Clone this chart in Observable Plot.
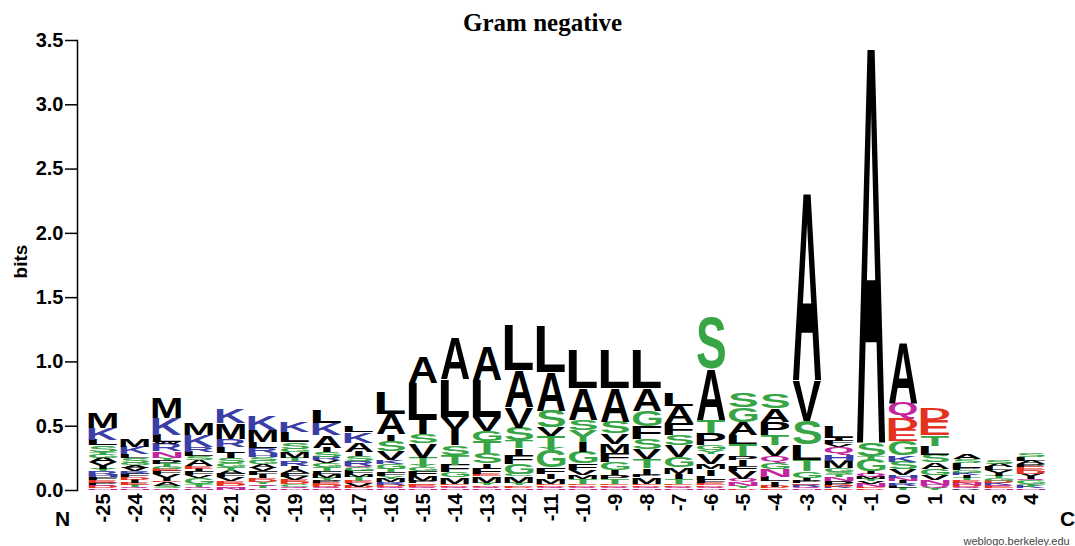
<!DOCTYPE html>
<html>
<head>
<meta charset="utf-8">
<script src="https://cdn.jsdelivr.net/npm/d3@7"></script>
<script src="https://cdn.jsdelivr.net/npm/@observablehq/plot@0.6"></script>
<style>
  html, body { margin: 0; padding: 0; background: #fff; }
</style>
</head>
<body>
<div id="chart"></div>
<script>
// Sequence positions relative to the cleavage site
const positions = [-25, -24, -23, -22, -21, -20, -19, -18, -17, -16, -15, -14, -13, -12, -11,
                   -10, -9, -8, -7, -6, -5, -4, -3, -2, -1, 0, 1, 2, 3, 4];

// Residues in each column, listed from the bottom of the stack to the top
const stackLetters = [
  "NDQPEFHRYIVAGTSLKM", "NQTEIDFRVAGSLKM", "QSADIVFEGTPYNRWLKM", "NQTGVFIEASLRKM",
  "NQDEVFATGSILRMK", "NTQYDEIFVAGSHRLMK", "NQCDEVFAIRTMGSLK", "NQDEPYMFTGVRSIAKL",
  "NDVETMFGQRSIAKL", "NQDRMYFTGKVSIAL", "NQEDPMFGYTVSILA", "NQDEMGFTSIVLA",
  "NQDYMEFISTGVLA", "NDEYMCGFITSVAL", "NQDEMIFGYTVSAL", "NQDETMVFGIYSAL",
  "NQDETPIGFMVSAL", "NQDEMPITVSFGAL", "NQDETIMGVSFAL", "NQDEFLIMVYGPTAS",
  "DYNQVFIPTLAGS", "EDILNGQVTPAS", "NQRDPIGTLSVA", "EKDPNTSGMHQVFIL",
  "DENVYMQIGTSA", "TLRINHVSKGEDQA", "YQNVGASLTED", "RQDNETIKGPLSA",
  "NEQKDGTIVLAS", "NKTGQIVDEPALS"
];

// Information (bits) carried by each residue, same order as stackLetters
const stackBits = [
  [.012, .014, .012, .02, .016, .024, .018, .03, .016, .028, .025, .035, .025, .022, .05, .045, .093, .125],
  [.012, .01, .018, .015, .025, .02, .025, .022, .025, .02, .018, .038, .032, .055, .059],
  [.014, .02, .025, .012, .025, .025, .025, .014, .02, .025, .025, .02, .05, .06, .015, .055, .13, .166],
  [.012, .014, .02, .05, .02, .03, .02, .02, .045, .03, .035, .041, .091, .091],
  [.014, .014, .022, .02, .03, .025, .025, .025, .035, .04, .035, .052, .063, .12, .107],
  [.012, .018, .015, .02, .02, .01, .025, .03, .025, .025, .025, .035, .025, .04, .05, .092, .108],
  [.012, .012, .02, .016, .02, .025, .025, .025, .03, .04, .025, .045, .025, .055, .079, .076],
  [.012, .012, .016, .015, .02, .02, .025, .03, .025, .035, .02, .025, .04, .035, .095, .095, .097],
  [.012, .015, .025, .015, .035, .02, .025, .025, .015, .035, .04, .035, .07, .083, .05],
  [.012, .012, .015, .02, .03, .02, .03, .025, .04, .03, .07, .08, .05, .16, .17],
  [.012, .012, .015, .012, .02, .04, .035, .03, .015, .06, .115, .07, .11, .29, .204],
  [.012, .012, .012, .012, .05, .04, .06, .075, .075, .13, .09, .292, .32],
  [.012, .012, .012, .02, .05, .015, .045, .04, .08, .09, .08, .11, .289, .26],
  [.012, .012, .012, .02, .05, .02, .08, .07, .05, .06, .1, .16, .287, .35],
  [.012, .012, .012, .012, .04, .04, .05, .13, .02, .09, .07, .13, .30, .365],
  [.012, .012, .012, .012, .04, .03, .04, .05, .09, .078, .09, .078, .246, .299],
  [.012, .012, .012, .012, .04, .03, .04, .06, .07, .07, .08, .09, .262, .299],
  [.012, .012, .012, .012, .05, .02, .05, .07, .08, .08, .10, .12, .172, .299],
  [.012, .012, .012, .012, .04, .04, .05, .08, .09, .08, .09, .132, .10],
  [.012, .012, .012, .015, .03, .03, .05, .04, .08, .03, .04, .09, .10, .40, .40],
  [.012, .02, .03, .025, .06, .04, .05, .03, .09, .073, .10, .11, .11],
  [.012, .015, .04, .035, .06, .055, .05, .08, .08, .10, .105, .108],
  [.012, .012, .015, .012, .02, .025, .05, .09, .12, .184, .315, 1.475],
  [.012, .015, .015, .03, .03, .02, .02, .03, .055, .05, .06, .02, .025, .025, .093],
  [.012, .012, .025, .02, .015, .02, .02, .02, .09, .03, .106, 3.12],
  [.015, .02, .02, .015, .025, .02, .045, .06, .05, .11, .087, .09, .123, .473],
  [.015, .025, .04, .035, .05, .05, .06, .065, .085, .12, .09],
  [.012, .015, .015, .015, .02, .02, .02, .015, .02, .02, .04, .03, .043],
  [.012, .015, .015, .015, .015, .02, .02, .02, .02, .025, .025, .035],
  [.012, .015, .02, .025, .015, .02, .02, .025, .03, .02, .025, .03, .028]
];

const yTicks = [0, 0.5, 1, 1.5, 2, 2.5, 3, 3.5];

// Residue colouring by chemical class
const polar = "GSTYC";
const basic = "KRH";
const acidic = "DE";
const amide = "NQ";
const classColors = {hydrophobic: "#000000", polar: "#37a546", basic: "#3a3ea6", acidic: "#e4321f", amide: "#c4259f"};

function residueColor(r) {
  if (polar.includes(r)) return classColors.polar;
  if (basic.includes(r)) return classColors.basic;
  if (acidic.includes(r)) return classColors.acidic;
  if (amide.includes(r)) return classColors.amide;
  return classColors.hydrophobic;
}

const rows = positions.flatMap((pos, i) =>
  Array.from(stackLetters[i], (letter, j) => ({pos, letter, bits: stackBits[i][j]}))
);

// Glyph ink metrics (measured large for precision) so every letter can be
// stretched to fill its stacked box
const LETTER_FONT = "'Liberation Sans', Arial, Helvetica, sans-serif";
const GLYPH_SIZE = 1000;
const measureCtx = document.createElement("canvas").getContext("2d");
measureCtx.font = `bold ${GLYPH_SIZE}px ${LETTER_FONT}`;
measureCtx.textAlign = "left";
measureCtx.textBaseline = "alphabetic";
const glyphCache = new Map();
function glyph(letter) {
  if (!glyphCache.has(letter)) {
    const m = measureCtx.measureText(letter);
    const L = m.actualBoundingBoxLeft, R = m.actualBoundingBoxRight;
    const A = m.actualBoundingBoxAscent, D = m.actualBoundingBoxDescent;
    glyphCache.set(letter, {L, A, W: L + R, H: A + D});
  }
  return glyphCache.get(letter);
}

// Replaces each stacked bar by its residue letter, scaled to the bar's box
function drawLetters(index, scales, values, dimensions, context) {
  const doc = (context && context.document) || document;
  const ns = "http://www.w3.org/2000/svg";
  const g = doc.createElementNS(ns, "g");
  g.setAttribute("text-anchor", "start");
  let bw = scales.x && scales.x.bandwidth;
  bw = typeof bw === "function" ? bw() : bw;
  if (!bw) bw = (1053 - 81) / positions.length;
  const inset = bw * 0.05;
  for (const i of index) {
    const y1 = values.y1[i], y2 = values.y2[i];
    const top = Math.min(y1, y2), h = Math.abs(y2 - y1);
    if (!(h > 0.25)) continue;
    const letter = rows[i].letter;
    let x = values.x[i] + inset, w = bw - 2 * inset;
    if (letter === "I") { // the narrow I keeps its slender shape
      const nw = w * 0.27;
      x += (w - nw) / 2;
      w = nw;
    }
    const m = glyph(letter);
    const t = doc.createElementNS(ns, "text");
    t.setAttribute("x", m.L);
    t.setAttribute("y", m.A);
    t.setAttribute("text-anchor", "start");
    t.setAttribute("transform", `translate(${x},${top}) scale(${w / m.W},${h / m.H})`);
    t.setAttribute("font-family", LETTER_FONT);
    t.setAttribute("font-weight", "bold");
    t.setAttribute("font-size", GLYPH_SIZE);
    t.setAttribute("fill", values.fill ? values.fill[i] : residueColor(letter));
    t.textContent = letter;
    g.appendChild(t);
  }
  return g;
}

const chart = Plot.plot({
  width: 1075,
  height: 546,
  marginTop: 40,
  marginRight: 22,
  marginBottom: 56,
  marginLeft: 77,
  style: "background:#fff; font-family:'Liberation Sans',Arial,sans-serif; font-weight:bold; font-size:20px; color:#000;",
  x: {type: "band", domain: positions, range: [81, 1053], padding: 0},
  y: {domain: [0, 3.5]},
  marks: [
    Plot.barY(rows, {x: "pos", y: "bits", order: null, fill: d => residueColor(d.letter), render: drawLetters}),
    Plot.frame({anchor: "left", stroke: "#000", strokeWidth: 1.5}),
    Plot.axisY({ticks: yTicks, tickFormat: d3.format(".1f"), tickSize: 12, tickPadding: 2, strokeWidth: 1.5, label: null}),
    Plot.axisX({tickSize: 0, tickPadding: 3, tickRotate: -90, label: null}),
    Plot.text(["Gram negative"], {frameAnchor: "top", dx: -23, dy: -18, lineAnchor: "middle", fontFamily: "'Liberation Serif', 'Times New Roman', serif", fontSize: 25, fontWeight: "bold"}),
    Plot.text(["bits"], {frameAnchor: "left", dx: -57, dy: -4, rotate: -90, textAnchor: "middle", lineAnchor: "middle", fontSize: 19}),
    Plot.text(["N"], {frameAnchor: "bottom-left", dx: -15, dy: 29, textAnchor: "middle", lineAnchor: "middle", fontSize: 21}),
    Plot.text(["C"], {frameAnchor: "bottom-right", dx: 14, dy: 29, textAnchor: "middle", lineAnchor: "middle", fontSize: 21}),
    Plot.text(["weblogo.berkeley.edu"], {frameAnchor: "bottom-right", dx: -90, dy: 51, textAnchor: "start", lineAnchor: "middle", fontSize: 11, fontWeight: "normal", fill: "#444"})
  ]
});

document.getElementById("chart").appendChild(chart);
</script>
</body>
</html>
